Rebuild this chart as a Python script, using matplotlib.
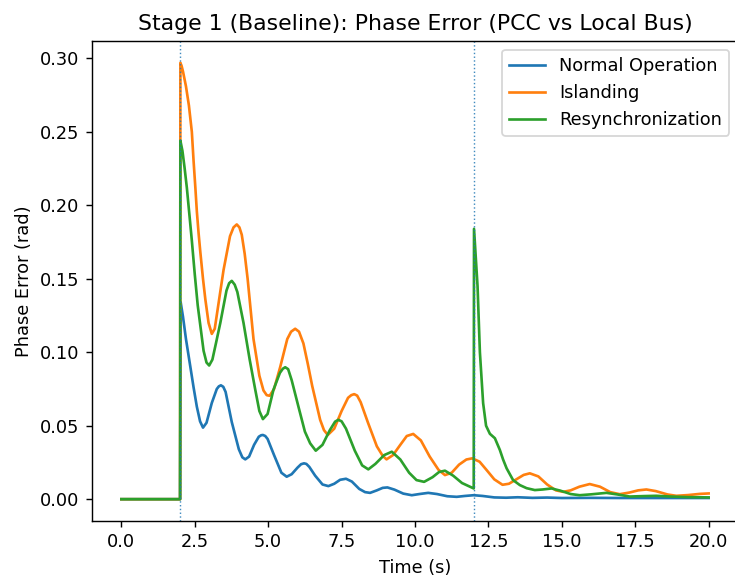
import numpy as np
import matplotlib.pyplot as plt

# values
t_normal = [0, 2.0, 2.02, 2.1, 2.2, 2.35, 2.46, 2.57, 2.68, 2.78, 2.90, 3.08, 3.25, 3.32, 3.39,
            3.47, 3.55, 3.76, 4.0, 4.12, 4.22, 4.35, 4.52, 4.68, 4.76, 4.82, 4.9, 4.98, 5.2, 5.45,
            5.63, 5.8, 6.0, 6.12, 6.22, 6.3, 6.4, 6.6, 6.85, 7.05, 7.25, 7.45, 7.65, 7.85, 8.1, 8.3,
            8.47, 8.7, 8.9, 9.06, 9.3, 9.6, 9.89, 10.15, 10.45, 10.75, 11.1, 11.42, 11.7, 12.0,
            12.3, 12.7, 13.1, 13.5, 14.0, 14.5, 15.0, 16.0, 17.0, 18.0, 19.0, 20.0]
normal = [0, 0, 0.134, 0.124, 0.109, 0.090, 0.076, 0.063, 0.053, 0.0487, 0.052, 0.0655, 0.075,
          0.0768, 0.0775, 0.0765, 0.073, 0.0525, 0.034, 0.0285, 0.0271, 0.029, 0.037, 0.0425,
          0.0435, 0.0437, 0.0430, 0.041, 0.030, 0.018, 0.0153, 0.017, 0.0215, 0.0238, 0.0244,
          0.0240, 0.022, 0.016, 0.010, 0.0089, 0.0105, 0.0132, 0.0139, 0.012, 0.007, 0.0048,
          0.0043, 0.006, 0.0077, 0.008, 0.0065, 0.0038, 0.0027, 0.0035, 0.0043, 0.0035, 0.002,
          0.0016, 0.0022, 0.0027, 0.0022, 0.0012, 0.001, 0.0013, 0.0009, 0.0011, 0.0008, 0.0009,
          0.0008, 0.0008, 0.0008, 0.0008]

t_island = [0, 2.0, 2.01, 2.05, 2.1, 2.2, 2.3, 2.4, 2.46, 2.52, 2.57, 2.63, 2.69, 2.78, 2.86, 2.97,
            3.08, 3.18, 3.3, 3.48, 3.7, 3.82, 3.93, 4.02, 4.1, 4.2, 4.3, 4.5, 4.7, 4.84, 4.95, 5.05,
            5.2, 5.41, 5.65, 5.78, 5.92, 6.05, 6.2, 6.35, 6.5, 6.77, 6.9, 7.03, 7.25, 7.5, 7.72, 7.83,
            7.93, 8.03, 8.15, 8.4, 8.7, 8.9, 9.03, 9.25, 9.5, 9.72, 9.94, 10.2, 10.5, 10.8, 11.02,
            11.25, 11.5, 11.75, 11.95, 12.2, 12.44, 12.7, 12.98, 13.2, 13.45, 13.7, 13.91, 14.2,
            14.5, 14.8, 15.05, 15.3, 15.6, 15.95, 16.3, 16.65, 16.97, 17.3, 17.6, 17.88, 18.2, 18.6,
            18.9, 19.3, 19.7, 20.0]
island = [0, 0, 0.297, 0.295, 0.291, 0.281, 0.268, 0.250, 0.230, 0.212, 0.196, 0.181, 0.168,
          0.150, 0.136, 0.120, 0.1125, 0.116, 0.132, 0.156, 0.179, 0.185, 0.187, 0.185, 0.180,
          0.167, 0.150, 0.109, 0.084, 0.074, 0.0708, 0.0704, 0.075, 0.090, 0.109, 0.114, 0.116,
          0.114, 0.106, 0.092, 0.077, 0.054, 0.047, 0.0437, 0.048, 0.060, 0.069, 0.0708, 0.0715,
          0.0705, 0.066, 0.052, 0.036, 0.0295, 0.0271, 0.030, 0.037, 0.043, 0.0444, 0.040, 0.029,
          0.020, 0.0164, 0.018, 0.0235, 0.027, 0.0278, 0.0255, 0.0198, 0.0135, 0.0098, 0.0105,
          0.0135, 0.0165, 0.0176, 0.0155, 0.010, 0.006, 0.005, 0.006, 0.0085, 0.0103, 0.0085,
          0.0048, 0.0034, 0.0045, 0.006, 0.0066, 0.0055, 0.0032, 0.0023, 0.0028, 0.0036, 0.0039]

t_resync = [0, 2.0, 2.01, 2.08, 2.15, 2.23, 2.32, 2.40, 2.5, 2.6, 2.69, 2.8, 2.9, 2.99, 3.1,
            3.22, 3.37, 3.58, 3.67, 3.76, 3.86, 3.95, 4.16, 4.37, 4.56, 4.7, 4.82, 4.98, 5.18, 5.4,
            5.5, 5.58, 5.68, 5.8, 6.03, 6.25, 6.43, 6.62, 6.85, 7.1, 7.28, 7.39, 7.5, 7.65, 7.95,
            8.2, 8.41, 8.65, 8.95, 9.21, 9.5, 9.8, 10.05, 10.31, 10.6, 10.82, 11.02, 11.3, 11.6,
            12.0, 12.01, 12.13, 12.21, 12.32, 12.42, 12.55, 12.72, 12.89, 13.0, 13.12, 13.34, 13.57,
            13.8, 14.08, 14.35, 14.65, 14.95, 15.3, 15.61, 16.0, 16.52, 16.9, 17.31, 17.8, 18.22,
            18.7, 19.3, 20.0]
resync = [0, 0, 0.244, 0.237, 0.226, 0.212, 0.193, 0.176, 0.153, 0.132, 0.118, 0.101, 0.093, 0.091,
          0.095, 0.106, 0.120, 0.142, 0.147, 0.1486, 0.146, 0.141, 0.120, 0.095, 0.0745, 0.060,
          0.0545, 0.058, 0.0745, 0.086, 0.0888, 0.0898, 0.0885, 0.081, 0.063, 0.046, 0.038, 0.033,
          0.037, 0.047, 0.0528, 0.054, 0.0530, 0.048, 0.033, 0.023, 0.0203, 0.024, 0.030, 0.0323,
          0.027, 0.018, 0.013, 0.0118, 0.015, 0.0185, 0.0194, 0.016, 0.011, 0.0073, 0.184, 0.145,
          0.100, 0.0654, 0.050, 0.0445, 0.0415, 0.0335, 0.027, 0.021, 0.013, 0.0096, 0.0075, 0.0062,
          0.0066, 0.0073, 0.0058, 0.0035, 0.0027, 0.0033, 0.0043, 0.0032, 0.0018, 0.0021, 0.0023,
          0.0018, 0.0014, 0.0012]

events = [2.0, 12.0]

DPI = 128
fig = plt.figure(figsize=(735 / DPI, 579 / DPI), dpi=DPI)
ax = fig.add_axes([92 / 735, 1 - 521 / 579, (738 - 92) / 735, (521 - 41) / 579])

ax.plot(t_normal, normal, label="Normal Operation")
ax.plot(t_island, island, label="Islanding")
ax.plot(t_resync, resync, label="Resynchronization")
for ev in events:
    ax.axvline(ev, linestyle=":", linewidth=0.8, alpha=0.85)

ax.set_title("Stage 1 (Baseline): Phase Error (PCC vs Local Bus)", fontsize=12.4)
ax.set_xlabel("Time (s)")
ax.set_ylabel("Phase Error (rad)")
ax.legend(loc="upper right")

fig.savefig("out.png", dpi=DPI)
